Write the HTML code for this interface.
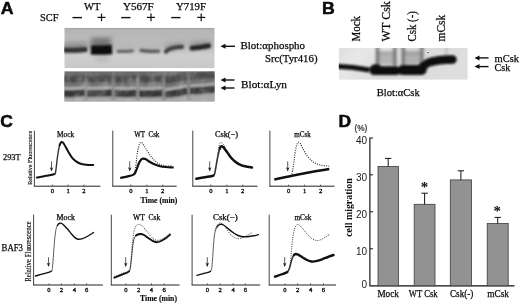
<!DOCTYPE html>
<html lang="en"><head><meta charset="utf-8"><title>Figure</title>
<style>
html,body{margin:0;padding:0;background:#fff;}
body{width:520px;height:303px;overflow:hidden;}
svg{display:block;}
text{white-space:pre;}
</style></head><body>
<svg width="520" height="303" viewBox="0 0 520 303">
<rect width="520" height="303" fill="#fff"/>
<defs>
<filter id="b1" x="-20%" y="-100%" width="140%" height="300%"><feGaussianBlur stdDeviation="1.1 0.9"/></filter>
<filter id="b2" x="-20%" y="-100%" width="140%" height="300%"><feGaussianBlur stdDeviation="1.6 1.5"/></filter>
<filter id="b3" x="-30%" y="-100%" width="160%" height="300%"><feGaussianBlur stdDeviation="2.5 2.2"/></filter>
<filter id="b05" x="-20%" y="-50%" width="140%" height="200%"><feGaussianBlur stdDeviation="0.6"/></filter>
<filter id="noise" x="0" y="0" width="100%" height="100%"><feTurbulence type="fractalNoise" baseFrequency="0.14 0.1" numOctaves="2" seed="7" result="t"/><feColorMatrix type="matrix" values="0 0 0 0 0.35  0 0 0 0 0.35  0 0 0 0 0.35  1.2 0 0 0 -0.45"/></filter>
<filter id="noise2" x="0" y="0" width="100%" height="100%"><feTurbulence type="fractalNoise" baseFrequency="0.12 0.09" numOctaves="2" seed="11" result="t"/><feColorMatrix type="matrix" values="0 0 0 0 0.95  0 0 0 0 0.95  0 0 0 0 0.95  1.2 0 0 0 -0.5"/></filter>
<filter id="soft" x="-5%" y="-5%" width="110%" height="110%"><feGaussianBlur stdDeviation="0.35"/></filter>
<linearGradient id="gA1" x1="0" y1="0" x2="0" y2="1">
<stop offset="0" stop-color="#a4a4a4"/><stop offset="0.07" stop-color="#b6b6b6"/><stop offset="0.45" stop-color="#bcbcbc"/><stop offset="0.68" stop-color="#cecece"/><stop offset="1" stop-color="#c8c8c8"/>
</linearGradient>
<linearGradient id="gA2" x1="0" y1="0" x2="0" y2="1">
<stop offset="0" stop-color="#686868"/><stop offset="0.5" stop-color="#727272"/><stop offset="1" stop-color="#8a8a8a"/>
</linearGradient>
<linearGradient id="gB" x1="0" y1="0" x2="1" y2="0.25">
<stop offset="0" stop-color="#dedede"/><stop offset="0.2" stop-color="#e8e8e8"/><stop offset="0.55" stop-color="#d8d8d8"/><stop offset="1" stop-color="#dedede"/>
</linearGradient>
<clipPath id="cA1"><rect x="64.3" y="27.8" width="150.4" height="40.4"/></clipPath>
<clipPath id="cA2"><rect x="64.3" y="71.2" width="150.4" height="30.4"/></clipPath>
<clipPath id="cB"><rect x="338.8" y="47.9" width="128.8" height="31.9"/></clipPath>
</defs>
<text x="0.8" y="13.7" font-size="16.8" font-family='"Liberation Sans", sans-serif' fill="#0a0a0a" font-weight="bold" textLength="12.8" lengthAdjust="spacingAndGlyphs" stroke="#0a0a0a" stroke-width="0.5" >A</text>
<text x="84" y="9.6" font-size="10.5" font-family='"Liberation Serif", serif' fill="#0a0a0a" textLength="16.5" lengthAdjust="spacingAndGlyphs" stroke="#0a0a0a" stroke-width="0.25" >WT</text>
<text x="123" y="9.6" font-size="10.5" font-family='"Liberation Serif", serif' fill="#0a0a0a" textLength="30.8" lengthAdjust="spacingAndGlyphs" stroke="#0a0a0a" stroke-width="0.25" >Y567F</text>
<text x="176" y="9.6" font-size="10.5" font-family='"Liberation Serif", serif' fill="#0a0a0a" textLength="30" lengthAdjust="spacingAndGlyphs" stroke="#0a0a0a" stroke-width="0.25" >Y719F</text>
<text x="40" y="21.2" font-size="10.5" font-family='"Liberation Serif", serif' fill="#0a0a0a" textLength="18.5" lengthAdjust="spacingAndGlyphs" stroke="#0a0a0a" stroke-width="0.25" >SCF</text>
<line x1="72.5" y1="17.6" x2="82" y2="17.6" stroke="#111" stroke-width="1.4" />
<line x1="121.2" y1="17.6" x2="130.5" y2="17.6" stroke="#111" stroke-width="1.4" />
<line x1="171.2" y1="17.6" x2="180.5" y2="17.6" stroke="#111" stroke-width="1.4" />
<line x1="97.5" y1="17.4" x2="105.5" y2="17.4" stroke="#111" stroke-width="1.2" />
<line x1="101.5" y1="13.6" x2="101.5" y2="21.2" stroke="#111" stroke-width="1.2" />
<line x1="147.0" y1="17.4" x2="155.0" y2="17.4" stroke="#111" stroke-width="1.2" />
<line x1="151" y1="13.6" x2="151" y2="21.2" stroke="#111" stroke-width="1.2" />
<line x1="197.2" y1="17.4" x2="205.2" y2="17.4" stroke="#111" stroke-width="1.2" />
<line x1="201.2" y1="13.6" x2="201.2" y2="21.2" stroke="#111" stroke-width="1.2" />
<g clip-path="url(#cA1)">
<rect x="64.3" y="27.8" width="150.4" height="40.4" fill="url(#gA1)" />
<g filter="url(#b3)" opacity="0.6">
<path d="M63,46.5 L87,46" stroke="#777" stroke-width="8" fill="none" />
<path d="M91,44 L111,43.5" stroke="#4a4a4a" stroke-width="12" fill="none" />
<path d="M116,49.5 L134,49" stroke="#aaa" stroke-width="5" fill="none" />
<path d="M140,49 L160,49.5" stroke="#aaa" stroke-width="5" fill="none" />
<path d="M165,48 L183,44.5" stroke="#8a8a8a" stroke-width="7" fill="none" />
<path d="M190,45.5 L210,43.5" stroke="#808080" stroke-width="7" fill="none" />
<path d="M96,58.8 L108,58.8" stroke="#8c8c8c" stroke-width="2.5" fill="none" />
</g>
<g filter="url(#b1)" stroke-linecap="round">
<path d="M64,50.1 C70,50.6 80,50 85,49.5" stroke="#303030" stroke-width="5.0" fill="none" />
<path d="M91,49.9 C97,50.3 106,50 112,49.5" stroke="#0c0c0c" stroke-width="9.4" fill="none" stroke-linecap="butt"/>
<path d="M118,51.3 C122,51.6 128,51.2 132.5,50.8" stroke="#5c5c5c" stroke-width="2.8" fill="none" />
<path d="M141,50.4 C146,51.2 153,51.4 158.5,51.2" stroke="#585858" stroke-width="3.2" fill="none" />
<path d="M166,51.6 C167.5,48.6 174,47.4 182,46.8" stroke="#3c3c3c" stroke-width="4.0" fill="none" />
<path d="M192,48.2 C196,47.8 204,46.6 208.5,45.8" stroke="#222" stroke-width="4.8" fill="none" />
</g>
</g>
<g clip-path="url(#cA2)">
<rect x="64.3" y="71.2" width="150.4" height="30.4" fill="url(#gA2)" />
<g filter="url(#b1)">
<polygon points="64,97.9 85.2,97.1 85.2,103 64,103" fill="#aaaaaa"/>
<polygon points="87,97.6 112.2,97.1 112.2,103 87,103" fill="#aaaaaa"/>
<polygon points="114.2,97.6 136.6,97.6 136.6,103 114.2,103" fill="#aaaaaa"/>
<polygon points="139,97.9 162.5,97.5 162.5,103 139,103" fill="#aaaaaa"/>
<polygon points="165,99.1 187.2,95.3 187.2,103 165,103" fill="#aaaaaa"/>
<polygon points="190,95.3 215,93.5 215,103 190,103" fill="#aaaaaa"/>
<path d="M64,79.0 Q74.6,79.5 85.2,78.2" stroke="#484848" stroke-width="7.0" fill="none" />
<path d="M64,85.0 Q74.6,85.5 85.2,84.2" stroke="#707070" stroke-width="4.0" fill="none" />
<path d="M64,93.2 Q74.6,93.7 85.2,92.4" stroke="#343434" stroke-width="7.6" fill="none" />
<path d="M64,88.4 Q74.6,88.9 85.2,87.6" stroke="#c0c0c0" stroke-width="2.2" fill="none" />
<path d="M87,78.7 Q99.6,79.3 112.2,78.2" stroke="#484848" stroke-width="7.0" fill="none" />
<path d="M87,84.7 Q99.6,85.3 112.2,84.2" stroke="#707070" stroke-width="4.0" fill="none" />
<path d="M87,92.9 Q99.6,93.5 112.2,92.4" stroke="#343434" stroke-width="7.6" fill="none" />
<path d="M87,88.1 Q99.6,88.8 112.2,87.6" stroke="#c0c0c0" stroke-width="2.2" fill="none" />
<path d="M114.2,78.7 Q125.4,79.6 136.6,78.7" stroke="#484848" stroke-width="7.0" fill="none" />
<path d="M114.2,84.7 Q125.4,85.6 136.6,84.7" stroke="#707070" stroke-width="4.0" fill="none" />
<path d="M114.2,92.9 Q125.4,93.8 136.6,92.9" stroke="#343434" stroke-width="7.6" fill="none" />
<path d="M114.2,88.1 Q125.4,89.0 136.6,88.1" stroke="#c0c0c0" stroke-width="2.2" fill="none" />
<path d="M139,79.0 Q150.75,79.7 162.5,78.6" stroke="#484848" stroke-width="7.0" fill="none" />
<path d="M139,85.0 Q150.75,85.7 162.5,84.6" stroke="#707070" stroke-width="4.0" fill="none" />
<path d="M139,93.2 Q150.75,93.9 162.5,92.8" stroke="#343434" stroke-width="7.6" fill="none" />
<path d="M139,88.4 Q150.75,89.1 162.5,88.0" stroke="#c0c0c0" stroke-width="2.2" fill="none" />
<path d="M165,80.2 Q176.1,79.2 187.2,76.4" stroke="#484848" stroke-width="7.0" fill="none" />
<path d="M165,86.2 Q176.1,85.2 187.2,82.4" stroke="#707070" stroke-width="4.0" fill="none" />
<path d="M165,94.4 Q176.1,93.4 187.2,90.6" stroke="#343434" stroke-width="7.6" fill="none" />
<path d="M165,89.6 Q176.1,88.6 187.2,85.8" stroke="#c0c0c0" stroke-width="2.2" fill="none" />
<path d="M190,76.4 Q202.5,76.4 215,74.6" stroke="#484848" stroke-width="7.0" fill="none" />
<path d="M190,82.4 Q202.5,82.4 215,80.6" stroke="#707070" stroke-width="4.0" fill="none" />
<path d="M190,90.6 Q202.5,90.6 215,88.8" stroke="#343434" stroke-width="7.6" fill="none" />
<path d="M190,85.8 Q202.5,85.8 215,84.0" stroke="#c0c0c0" stroke-width="2.2" fill="none" />
</g>
<g filter="url(#b1)">
<path d="M86.1,79 L86.1,102" stroke="#a0a0a0" stroke-width="1.8" fill="none" opacity="0.7"/>
<path d="M86.1,71 L86.1,80" stroke="#8a8a8a" stroke-width="1.4" fill="none" opacity="0.45"/>
<path d="M113.2,79 L113.2,102" stroke="#a0a0a0" stroke-width="1.8" fill="none" opacity="0.7"/>
<path d="M113.2,71 L113.2,80" stroke="#8a8a8a" stroke-width="1.4" fill="none" opacity="0.45"/>
<path d="M137.8,79 L137.8,102" stroke="#a0a0a0" stroke-width="1.8" fill="none" opacity="0.7"/>
<path d="M137.8,71 L137.8,80" stroke="#8a8a8a" stroke-width="1.4" fill="none" opacity="0.45"/>
<path d="M163.8,79 L163.8,102" stroke="#a0a0a0" stroke-width="1.8" fill="none" opacity="0.7"/>
<path d="M163.8,71 L163.8,80" stroke="#8a8a8a" stroke-width="1.4" fill="none" opacity="0.45"/>
<path d="M188.5,79 L188.5,102" stroke="#a0a0a0" stroke-width="1.8" fill="none" opacity="0.7"/>
<path d="M188.5,71 L188.5,80" stroke="#8a8a8a" stroke-width="1.4" fill="none" opacity="0.45"/>
</g>
<rect x="64" y="71" width="151" height="31" filter="url(#noise)" opacity="0.5"/>
<rect x="64" y="71" width="151" height="31" filter="url(#noise2)" opacity="0.3"/>
</g>
<line x1="222.5" y1="46.3" x2="235" y2="46.3" stroke="#111" stroke-width="1.4" />
<polygon points="220.5,46.3 225.5,43.8 225.5,48.8" fill="#111"/>
<line x1="222.5" y1="80" x2="234.5" y2="80" stroke="#111" stroke-width="1.4" />
<polygon points="220.5,80 225.5,77.5 225.5,82.5" fill="#111"/>
<line x1="222.5" y1="88" x2="234.5" y2="88" stroke="#111" stroke-width="1.4" />
<polygon points="220.5,88 225.5,85.5 225.5,90.5" fill="#111"/>
<text x="240.5" y="49.2" font-size="11" font-family='"Liberation Serif", serif' fill="#0a0a0a" textLength="64.5" lengthAdjust="spacingAndGlyphs" stroke="#0a0a0a" stroke-width="0.25" >Blot:αphospho</text>
<text x="264.9" y="61.8" font-size="11" font-family='"Liberation Serif", serif' fill="#0a0a0a" textLength="52.6" lengthAdjust="spacingAndGlyphs" stroke="#0a0a0a" stroke-width="0.25" >Src(Tyr416)</text>
<text x="241" y="87.6" font-size="11" font-family='"Liberation Serif", serif' fill="#0a0a0a" textLength="46" lengthAdjust="spacingAndGlyphs" stroke="#0a0a0a" stroke-width="0.25" >Blot:αLyn</text>
<text x="322.0" y="13.5" font-size="16.8" font-family='"Liberation Sans", sans-serif' fill="#0a0a0a" font-weight="bold" textLength="12.8" lengthAdjust="spacingAndGlyphs" stroke="#0a0a0a" stroke-width="0.5" >B</text>
<text x="360" y="41.4" font-size="12" font-family='"Liberation Serif", serif' fill="#0a0a0a" textLength="25.4" lengthAdjust="spacingAndGlyphs" transform="rotate(-90 360 41.4)" stroke="#0a0a0a" stroke-width="0.25" >Mock</text>
<text x="389.8" y="41.4" font-size="12" font-family='"Liberation Serif", serif' fill="#0a0a0a" textLength="40.3" lengthAdjust="spacingAndGlyphs" transform="rotate(-90 389.8 41.4)" stroke="#0a0a0a" stroke-width="0.25" xml:space="preserve">WT Csk</text>
<text x="415.8" y="41.4" font-size="12" font-family='"Liberation Serif", serif' fill="#0a0a0a" textLength="30.3" lengthAdjust="spacingAndGlyphs" transform="rotate(-90 415.8 41.4)" stroke="#0a0a0a" stroke-width="0.25" >Csk (-)</text>
<text x="444.6" y="41.4" font-size="12" font-family='"Liberation Serif", serif' fill="#0a0a0a" textLength="26.5" lengthAdjust="spacingAndGlyphs" transform="rotate(-90 444.6 41.4)" stroke="#0a0a0a" stroke-width="0.25" >mCsk</text>
<g clip-path="url(#cB)">
<rect x="338.8" y="47.9" width="130" height="31.9" fill="url(#gB)" />
<g filter="url(#b2)">
<rect x="377" y="51.5" width="18" height="13" fill="#b4b4b4" />
<rect x="403.5" y="51.5" width="18" height="13" fill="#b0b0b0" />
<path d="M377,53 L395,53" stroke="#a0a0a0" stroke-width="2.6" fill="none" />
<path d="M403.5,53 L421.5,53" stroke="#989898" stroke-width="2.8" fill="none" />
</g>
<g filter="url(#b2)">
<path d="M377.6,46 L377.6,66" stroke="#707070" stroke-width="3.2" fill="none" />
<path d="M394.8,46 L394.8,66" stroke="#707070" stroke-width="3.2" fill="none" />
<path d="M403.3,46 L403.3,66" stroke="#707070" stroke-width="3.2" fill="none" />
<path d="M421.8,46 L421.8,66" stroke="#707070" stroke-width="3.2" fill="none" />
<path d="M446.4,47 L446.4,56" stroke="#b0b0b0" stroke-width="1.6" fill="none" />
</g>
<g filter="url(#b1)" stroke-linecap="round">
<path d="M336,66.2 C350,66.8 360,68.2 369.5,70" stroke="#0a0a0a" stroke-width="5.0" fill="none" stroke-linecap="butt"/>
<path d="M375,69.6 L377,69.6" stroke="#080808" stroke-width="10.5" fill="none" />
<path d="M374,70.6 L396,70.6" stroke="#080808" stroke-width="8.6" fill="none" />
<path d="M394,71 L404,71" stroke="#080808" stroke-width="6.5" fill="none" />
<path d="M403,70 L421.5,70" stroke="#080808" stroke-width="10.2" fill="none" />
<path d="M421,68.5 C424,66 426,63.5 429,62.4 C434,60.6 440,59.8 452.5,59.5" stroke="#080808" stroke-width="8.4" fill="none" />
</g>
<circle cx="428" cy="52.6" r="1.5" fill="#f2f2f2"/><circle cx="428" cy="52.6" r="0.8" fill="#444"/>
</g>
<line x1="476.5" y1="57.9" x2="488.5" y2="57.9" stroke="#111" stroke-width="1.4" />
<polygon points="474.5,57.9 479.5,55.4 479.5,60.4" fill="#111"/>
<line x1="476.5" y1="66.6" x2="488.5" y2="66.6" stroke="#111" stroke-width="1.4" />
<polygon points="474.5,66.6 479.5,64.1 479.5,69.1" fill="#111"/>
<text x="494.5" y="61.8" font-size="11" font-family='"Liberation Serif", serif' fill="#0a0a0a" textLength="24.5" lengthAdjust="spacingAndGlyphs" stroke="#0a0a0a" stroke-width="0.25" >mCsk</text>
<text x="494.5" y="70.6" font-size="11" font-family='"Liberation Serif", serif' fill="#0a0a0a" textLength="15.8" lengthAdjust="spacingAndGlyphs" stroke="#0a0a0a" stroke-width="0.25" >Csk</text>
<text x="376.8" y="95.8" font-size="11" font-family='"Liberation Serif", serif' fill="#0a0a0a" textLength="42.9" lengthAdjust="spacingAndGlyphs" stroke="#0a0a0a" stroke-width="0.25" >Blot:αCsk</text>
<text x="0.2" y="127.4" font-size="16.8" font-family='"Liberation Sans", sans-serif' fill="#0a0a0a" font-weight="bold" textLength="12.6" lengthAdjust="spacingAndGlyphs" stroke="#0a0a0a" stroke-width="0.5" >C</text>
<text x="3" y="159.8" font-size="9" font-family='"Liberation Serif", serif' fill="#0a0a0a" textLength="17.6" lengthAdjust="spacingAndGlyphs" stroke="#0a0a0a" stroke-width="0.25" >293T</text>
<text x="1.6" y="251.2" font-size="9.5" font-family='"Liberation Serif", serif' fill="#0a0a0a" textLength="21.4" lengthAdjust="spacingAndGlyphs" stroke="#0a0a0a" stroke-width="0.25" >BAF3</text>
<text x="31.8" y="184.8" font-size="6.8" font-family='"Liberation Serif", serif' fill="#0a0a0a" textLength="54" lengthAdjust="spacingAndGlyphs" transform="rotate(-90 31.8 184.8)" stroke="#0a0a0a" stroke-width="0.15" >Relative Fluorescence</text>
<text x="30.9" y="281.7" font-size="7.3" font-family='"Liberation Serif", serif' fill="#0a0a0a" textLength="60.5" lengthAdjust="spacingAndGlyphs" transform="rotate(-90 30.9 281.7)" stroke="#0a0a0a" stroke-width="0.15" >Relative Fluorescence</text>
<line x1="34.4" y1="130.6" x2="34.4" y2="186.2" stroke="#444" stroke-width="1.0" />
<line x1="33.9" y1="186.2" x2="100.4" y2="186.2" stroke="#222" stroke-width="1.0" />
<text x="57" y="136.7" font-size="7.4" font-family='"Liberation Serif", serif' fill="#0a0a0a" textLength="17.2" lengthAdjust="spacingAndGlyphs" stroke="#0a0a0a" stroke-width="0.25" xml:space="preserve">Mock</text>
<text x="52.3" y="193.0" font-size="6.6" font-family='"Liberation Serif", serif' fill="#0a0a0a" text-anchor="middle" stroke="#0a0a0a" stroke-width="0.3" >0</text>
<line x1="52.3" y1="186.2" x2="52.3" y2="184.6" stroke="#333" stroke-width="0.8" />
<text x="68.1" y="193.0" font-size="6.6" font-family='"Liberation Serif", serif' fill="#0a0a0a" text-anchor="middle" stroke="#0a0a0a" stroke-width="0.3" >1</text>
<line x1="68.1" y1="186.2" x2="68.1" y2="184.6" stroke="#333" stroke-width="0.8" />
<text x="84.0" y="193.0" font-size="6.6" font-family='"Liberation Serif", serif' fill="#0a0a0a" text-anchor="middle" stroke="#0a0a0a" stroke-width="0.3" >2</text>
<line x1="84.0" y1="186.2" x2="84.0" y2="184.6" stroke="#333" stroke-width="0.8" />
<line x1="51.5" y1="161.3" x2="51.5" y2="170.4" stroke="#333" stroke-width="0.8" />
<polygon points="51.5,171.4 49.8,167.20000000000002 51.5,168.20000000000002 53.2,167.20000000000002" fill="#222"/>
<line x1="112.8" y1="130.6" x2="112.8" y2="186.2" stroke="#444" stroke-width="1.0" />
<line x1="112.3" y1="186.2" x2="176.7" y2="186.2" stroke="#222" stroke-width="1.0" />
<text x="134.2" y="136.7" font-size="7.4" font-family='"Liberation Serif", serif' fill="#0a0a0a" textLength="25.2" lengthAdjust="spacingAndGlyphs" stroke="#0a0a0a" stroke-width="0.25" xml:space="preserve">WT  Csk</text>
<text x="130.9" y="193.0" font-size="6.6" font-family='"Liberation Serif", serif' fill="#0a0a0a" text-anchor="middle" stroke="#0a0a0a" stroke-width="0.3" >0</text>
<line x1="130.9" y1="186.2" x2="130.9" y2="184.6" stroke="#333" stroke-width="0.8" />
<text x="146.9" y="193.0" font-size="6.6" font-family='"Liberation Serif", serif' fill="#0a0a0a" text-anchor="middle" stroke="#0a0a0a" stroke-width="0.3" >1</text>
<line x1="146.9" y1="186.2" x2="146.9" y2="184.6" stroke="#333" stroke-width="0.8" />
<text x="162.70000000000002" y="193.0" font-size="6.6" font-family='"Liberation Serif", serif' fill="#0a0a0a" text-anchor="middle" stroke="#0a0a0a" stroke-width="0.3" >2</text>
<line x1="162.70000000000002" y1="186.2" x2="162.70000000000002" y2="184.6" stroke="#333" stroke-width="0.8" />
<line x1="129.7" y1="161.3" x2="129.7" y2="170.4" stroke="#333" stroke-width="0.8" />
<polygon points="129.7,171.4 127.99999999999999,167.20000000000002 129.7,168.20000000000002 131.39999999999998,167.20000000000002" fill="#222"/>
<line x1="192.8" y1="130.6" x2="192.8" y2="186.2" stroke="#444" stroke-width="1.0" />
<line x1="192.3" y1="186.2" x2="257.5" y2="186.2" stroke="#222" stroke-width="1.0" />
<text x="215" y="136.7" font-size="7.4" font-family='"Liberation Serif", serif' fill="#0a0a0a" textLength="23" lengthAdjust="spacingAndGlyphs" stroke="#0a0a0a" stroke-width="0.25" xml:space="preserve">Csk(−)</text>
<text x="210.9" y="193.0" font-size="6.6" font-family='"Liberation Serif", serif' fill="#0a0a0a" text-anchor="middle" stroke="#0a0a0a" stroke-width="0.3" >0</text>
<line x1="210.9" y1="186.2" x2="210.9" y2="184.6" stroke="#333" stroke-width="0.8" />
<text x="226.9" y="193.0" font-size="6.6" font-family='"Liberation Serif", serif' fill="#0a0a0a" text-anchor="middle" stroke="#0a0a0a" stroke-width="0.3" >1</text>
<line x1="226.9" y1="186.2" x2="226.9" y2="184.6" stroke="#333" stroke-width="0.8" />
<text x="242.70000000000002" y="193.0" font-size="6.6" font-family='"Liberation Serif", serif' fill="#0a0a0a" text-anchor="middle" stroke="#0a0a0a" stroke-width="0.3" >2</text>
<line x1="242.70000000000002" y1="186.2" x2="242.70000000000002" y2="184.6" stroke="#333" stroke-width="0.8" />
<line x1="209.7" y1="161.3" x2="209.7" y2="170.4" stroke="#333" stroke-width="0.8" />
<polygon points="209.7,171.4 208.0,167.20000000000002 209.7,168.20000000000002 211.39999999999998,167.20000000000002" fill="#222"/>
<line x1="269.9" y1="130.6" x2="269.9" y2="186.2" stroke="#444" stroke-width="1.0" />
<line x1="269.4" y1="186.2" x2="334.5" y2="186.2" stroke="#222" stroke-width="1.0" />
<text x="294.2" y="136.7" font-size="7.4" font-family='"Liberation Serif", serif' fill="#0a0a0a" textLength="16.5" lengthAdjust="spacingAndGlyphs" stroke="#0a0a0a" stroke-width="0.25" xml:space="preserve">mCsk</text>
<text x="288.6" y="193.0" font-size="6.6" font-family='"Liberation Serif", serif' fill="#0a0a0a" text-anchor="middle" stroke="#0a0a0a" stroke-width="0.3" >0</text>
<line x1="288.6" y1="186.2" x2="288.6" y2="184.6" stroke="#333" stroke-width="0.8" />
<text x="304.6" y="193.0" font-size="6.6" font-family='"Liberation Serif", serif' fill="#0a0a0a" text-anchor="middle" stroke="#0a0a0a" stroke-width="0.3" >1</text>
<line x1="304.6" y1="186.2" x2="304.6" y2="184.6" stroke="#333" stroke-width="0.8" />
<text x="320.6" y="193.0" font-size="6.6" font-family='"Liberation Serif", serif' fill="#0a0a0a" text-anchor="middle" stroke="#0a0a0a" stroke-width="0.3" >2</text>
<line x1="320.6" y1="186.2" x2="320.6" y2="184.6" stroke="#333" stroke-width="0.8" />
<line x1="287.7" y1="161.3" x2="287.7" y2="170.4" stroke="#333" stroke-width="0.8" />
<polygon points="287.7,171.4 286.0,167.20000000000002 287.7,168.20000000000002 289.4,167.20000000000002" fill="#222"/>
<text x="140.6" y="203.3" font-size="8.6" font-family='"Liberation Serif", serif' fill="#0a0a0a" font-weight="bold" textLength="36.8" lengthAdjust="spacingAndGlyphs" stroke="#0a0a0a" stroke-width="0.15" >Time (min)</text>
<path d="M54.0,174.2 C55.8,173.5 55.0,175.0 55.6,172.0 C56.2,169.0 56.9,160.4 57.6,156.0 C58.3,151.6 58.9,147.6 59.6,145.3" stroke="#333" stroke-width="1.4" fill="none" stroke-linecap="round"/>
<path d="M36.8,177.6 C38.2,177.3 42.1,176.6 45.0,176.0 C47.9,175.4 52.2,174.9 54.0,174.2" stroke="#111" stroke-width="2.0" fill="none" stroke-linecap="round"/>
<path d="M59.6,145.3 C60.3,143.0 60.9,142.3 61.6,142.0 C62.3,141.7 62.6,141.8 63.7,143.5 C64.8,145.2 67.0,149.6 68.4,152.0 C69.8,154.4 71.0,156.3 72.2,157.8 C73.5,159.3 74.6,160.2 75.9,161.2 C77.2,162.1 78.3,162.9 80.0,163.5 C81.7,164.1 83.8,164.5 86.0,164.8 C88.2,165.1 92.0,165.1 93.2,165.1" stroke="#111" stroke-width="2.0" fill="none" stroke-linecap="round"/>
<path d="M120.2,178.0 C121.3,177.8 124.8,177.2 127.0,176.6 C129.2,176.0 132.0,175.5 133.5,174.6 C135.0,173.7 135.1,172.9 136.0,171.0 C136.9,169.1 138.1,164.9 139.0,163.0 C139.9,161.1 140.8,160.0 141.5,159.3 C142.2,158.6 142.8,158.6 143.5,158.6 C144.2,158.6 144.9,158.7 146.0,159.3 C147.1,159.9 148.5,161.1 150.0,162.0 C151.5,162.9 153.3,163.9 155.0,164.6 C156.7,165.3 158.2,165.8 160.0,166.2 C161.8,166.6 163.7,166.8 166.0,167.0 C168.3,167.2 172.4,167.4 173.7,167.5" stroke="#111" stroke-width="2.2" fill="none" />
<path d="M133.5,174.6 C133.8,173.5 134.8,171.8 135.5,168.0 C136.2,164.2 136.8,156.0 137.5,152.0 C138.2,148.0 138.9,145.6 139.5,144.0 C140.1,142.4 140.3,142.5 140.8,142.4 C141.3,142.3 141.6,142.4 142.5,143.5 C143.4,144.6 144.8,147.1 146.0,149.0 C147.2,150.9 148.7,153.2 150.0,155.0 C151.3,156.8 152.5,158.5 154.0,160.0 C155.5,161.5 157.2,163.0 159.0,164.0 C160.8,165.0 162.7,165.4 165.0,165.8 C167.3,166.2 171.5,166.1 172.8,166.2" stroke="#222" stroke-width="1.1" fill="none" stroke-dasharray="1 1.3"/>
<path d="M213.3,175.6 C215.0,174.7 214.3,174.9 215.0,172.0 C215.7,169.1 216.7,161.9 217.5,158.0 C218.3,154.1 219.1,150.5 219.8,148.5" stroke="#333" stroke-width="1.6" fill="none" stroke-linecap="round"/>
<path d="M196.3,178.8 C197.8,178.5 202.2,177.7 205.0,177.2 C207.8,176.7 211.6,176.5 213.3,175.6" stroke="#111" stroke-width="2.5" fill="none" stroke-linecap="round"/>
<path d="M219.8,148.5 C220.5,146.5 221.0,146.4 221.6,146.2 C222.2,146.0 222.6,146.3 223.5,147.3 C224.4,148.3 225.8,150.4 227.0,152.0 C228.2,153.6 229.2,155.4 230.5,157.0 C231.8,158.6 233.5,160.3 235.0,161.5 C236.5,162.7 237.7,163.5 239.4,164.3 C241.1,165.1 242.9,165.8 245.0,166.3 C247.1,166.8 250.8,167.3 252.0,167.5" stroke="#111" stroke-width="2.5" fill="none" stroke-linecap="round"/>
<path d="M217.5,155.0 C217.8,153.3 218.7,147.1 219.3,145.0 C219.9,142.9 220.4,142.6 221.0,142.4 C221.6,142.2 222.1,142.7 222.8,143.6 C223.5,144.5 225.0,147.3 225.4,148.0" stroke="#333" stroke-width="1.0" fill="none" stroke-dasharray="1 1.3"/>
<path d="M274.3,179.4 C276.9,178.9 284.1,177.4 290.0,176.2 C295.9,175.0 303.4,173.4 310.0,172.2 C316.6,171.0 326.1,169.5 329.3,169.0" stroke="#111" stroke-width="2.6" fill="none" />
<path d="M292.0,173.8 C292.2,172.3 292.9,169.0 293.5,165.0 C294.1,161.0 294.9,153.6 295.5,150.0 C296.1,146.4 296.8,144.8 297.3,143.5 C297.8,142.2 298.2,142.3 298.7,142.3 C299.2,142.3 299.6,142.4 300.3,143.5 C301.0,144.6 301.9,147.0 303.0,149.0 C304.1,151.0 305.7,153.8 307.0,155.6 C308.3,157.4 309.8,158.8 311.0,160.0 C312.2,161.2 312.9,162.0 314.4,162.8 C315.9,163.6 317.5,164.4 320.0,165.0 C322.5,165.6 327.8,166.0 329.3,166.2" stroke="#222" stroke-width="1.1" fill="none" stroke-dasharray="1 1.3"/>
<line x1="33.6" y1="214.7" x2="33.6" y2="285" stroke="#444" stroke-width="1.0" />
<line x1="33.1" y1="285" x2="102.9" y2="285" stroke="#222" stroke-width="1.0" />
<text x="56.5" y="220.4" font-size="7.4" font-family='"Liberation Serif", serif' fill="#0a0a0a" textLength="18.5" lengthAdjust="spacingAndGlyphs" stroke="#0a0a0a" stroke-width="0.25" xml:space="preserve">Mock</text>
<text x="49" y="292.0" font-size="6.6" font-family='"Liberation Serif", serif' fill="#0a0a0a" text-anchor="middle" stroke="#0a0a0a" stroke-width="0.3" >0</text>
<line x1="49" y1="285" x2="49" y2="283.4" stroke="#333" stroke-width="0.8" />
<text x="61.4" y="292.0" font-size="6.6" font-family='"Liberation Serif", serif' fill="#0a0a0a" text-anchor="middle" stroke="#0a0a0a" stroke-width="0.3" >2</text>
<line x1="61.4" y1="285" x2="61.4" y2="283.4" stroke="#333" stroke-width="0.8" />
<text x="74.3" y="292.0" font-size="6.6" font-family='"Liberation Serif", serif' fill="#0a0a0a" text-anchor="middle" stroke="#0a0a0a" stroke-width="0.3" >4</text>
<line x1="74.3" y1="285" x2="74.3" y2="283.4" stroke="#333" stroke-width="0.8" />
<text x="86.6" y="292.0" font-size="6.6" font-family='"Liberation Serif", serif' fill="#0a0a0a" text-anchor="middle" stroke="#0a0a0a" stroke-width="0.3" >6</text>
<line x1="86.6" y1="285" x2="86.6" y2="283.4" stroke="#333" stroke-width="0.8" />
<line x1="48.5" y1="257.2" x2="48.5" y2="266.0" stroke="#333" stroke-width="0.8" />
<polygon points="48.5,267.0 46.8,262.8 48.5,263.8 50.2,262.8" fill="#222"/>
<line x1="111.3" y1="214.7" x2="111.3" y2="285" stroke="#444" stroke-width="1.0" />
<line x1="110.8" y1="285" x2="179.5" y2="285" stroke="#222" stroke-width="1.0" />
<text x="133" y="220.4" font-size="7.4" font-family='"Liberation Serif", serif' fill="#0a0a0a" textLength="27.3" lengthAdjust="spacingAndGlyphs" stroke="#0a0a0a" stroke-width="0.25" xml:space="preserve">WT  Csk</text>
<text x="126" y="292.0" font-size="6.6" font-family='"Liberation Serif", serif' fill="#0a0a0a" text-anchor="middle" stroke="#0a0a0a" stroke-width="0.3" >0</text>
<line x1="126" y1="285" x2="126" y2="283.4" stroke="#333" stroke-width="0.8" />
<text x="138.7" y="292.0" font-size="6.6" font-family='"Liberation Serif", serif' fill="#0a0a0a" text-anchor="middle" stroke="#0a0a0a" stroke-width="0.3" >2</text>
<line x1="138.7" y1="285" x2="138.7" y2="283.4" stroke="#333" stroke-width="0.8" />
<text x="151.5" y="292.0" font-size="6.6" font-family='"Liberation Serif", serif' fill="#0a0a0a" text-anchor="middle" stroke="#0a0a0a" stroke-width="0.3" >4</text>
<line x1="151.5" y1="285" x2="151.5" y2="283.4" stroke="#333" stroke-width="0.8" />
<text x="164.2" y="292.0" font-size="6.6" font-family='"Liberation Serif", serif' fill="#0a0a0a" text-anchor="middle" stroke="#0a0a0a" stroke-width="0.3" >6</text>
<line x1="164.2" y1="285" x2="164.2" y2="283.4" stroke="#333" stroke-width="0.8" />
<line x1="125.7" y1="257.2" x2="125.7" y2="266.0" stroke="#333" stroke-width="0.8" />
<polygon points="125.7,267.0 124.0,262.8 125.7,263.8 127.4,262.8" fill="#222"/>
<line x1="192.1" y1="214.7" x2="192.1" y2="285" stroke="#444" stroke-width="1.0" />
<line x1="191.6" y1="285" x2="260.2" y2="285" stroke="#222" stroke-width="1.0" />
<text x="213" y="220.4" font-size="7.4" font-family='"Liberation Serif", serif' fill="#0a0a0a" textLength="24.7" lengthAdjust="spacingAndGlyphs" stroke="#0a0a0a" stroke-width="0.25" xml:space="preserve">Csk(−)</text>
<text x="207.3" y="292.0" font-size="6.6" font-family='"Liberation Serif", serif' fill="#0a0a0a" text-anchor="middle" stroke="#0a0a0a" stroke-width="0.3" >0</text>
<line x1="207.3" y1="285" x2="207.3" y2="283.4" stroke="#333" stroke-width="0.8" />
<text x="220.2" y="292.0" font-size="6.6" font-family='"Liberation Serif", serif' fill="#0a0a0a" text-anchor="middle" stroke="#0a0a0a" stroke-width="0.3" >2</text>
<line x1="220.2" y1="285" x2="220.2" y2="283.4" stroke="#333" stroke-width="0.8" />
<text x="233.2" y="292.0" font-size="6.6" font-family='"Liberation Serif", serif' fill="#0a0a0a" text-anchor="middle" stroke="#0a0a0a" stroke-width="0.3" >4</text>
<line x1="233.2" y1="285" x2="233.2" y2="283.4" stroke="#333" stroke-width="0.8" />
<text x="245.4" y="292.0" font-size="6.6" font-family='"Liberation Serif", serif' fill="#0a0a0a" text-anchor="middle" stroke="#0a0a0a" stroke-width="0.3" >6</text>
<line x1="245.4" y1="285" x2="245.4" y2="283.4" stroke="#333" stroke-width="0.8" />
<line x1="207.3" y1="257.2" x2="207.3" y2="266.0" stroke="#333" stroke-width="0.8" />
<polygon points="207.3,267.0 205.60000000000002,262.8 207.3,263.8 209.0,262.8" fill="#222"/>
<line x1="269.2" y1="214.7" x2="269.2" y2="285" stroke="#444" stroke-width="1.0" />
<line x1="268.7" y1="285" x2="336" y2="285" stroke="#222" stroke-width="1.0" />
<text x="294.4" y="220.4" font-size="7.4" font-family='"Liberation Serif", serif' fill="#0a0a0a" textLength="17" lengthAdjust="spacingAndGlyphs" stroke="#0a0a0a" stroke-width="0.25" xml:space="preserve">mCsk</text>
<text x="285" y="292.0" font-size="6.6" font-family='"Liberation Serif", serif' fill="#0a0a0a" text-anchor="middle" stroke="#0a0a0a" stroke-width="0.3" >0</text>
<line x1="285" y1="285" x2="285" y2="283.4" stroke="#333" stroke-width="0.8" />
<text x="297.6" y="292.0" font-size="6.6" font-family='"Liberation Serif", serif' fill="#0a0a0a" text-anchor="middle" stroke="#0a0a0a" stroke-width="0.3" >2</text>
<line x1="297.6" y1="285" x2="297.6" y2="283.4" stroke="#333" stroke-width="0.8" />
<text x="310.6" y="292.0" font-size="6.6" font-family='"Liberation Serif", serif' fill="#0a0a0a" text-anchor="middle" stroke="#0a0a0a" stroke-width="0.3" >4</text>
<line x1="310.6" y1="285" x2="310.6" y2="283.4" stroke="#333" stroke-width="0.8" />
<text x="323.5" y="292.0" font-size="6.6" font-family='"Liberation Serif", serif' fill="#0a0a0a" text-anchor="middle" stroke="#0a0a0a" stroke-width="0.3" >6</text>
<line x1="323.5" y1="285" x2="323.5" y2="283.4" stroke="#333" stroke-width="0.8" />
<line x1="284.7" y1="257.2" x2="284.7" y2="266.0" stroke="#333" stroke-width="0.8" />
<polygon points="284.7,267.0 283.0,262.8 284.7,263.8 286.4,262.8" fill="#222"/>
<text x="140" y="301.2" font-size="8.6" font-family='"Liberation Serif", serif' fill="#0a0a0a" font-weight="bold" textLength="37" lengthAdjust="spacingAndGlyphs" stroke="#0a0a0a" stroke-width="0.15" >Time (min)</text>
<path d="M51.3,271.3 C52.9,270.0 52.1,270.4 52.6,266.0 C53.1,261.6 53.7,250.8 54.2,245.0 C54.7,239.2 55.1,234.8 55.6,231.5 C56.1,228.2 56.7,226.9 57.4,225.5" stroke="#333" stroke-width="0.8" fill="none" stroke-linecap="round"/>
<path d="M35.5,276.0 C36.8,275.6 40.4,274.6 43.0,273.8 C45.6,273.0 49.7,272.6 51.3,271.3" stroke="#111" stroke-width="1.4" fill="none" stroke-linecap="round"/>
<path d="M57.4,225.5 C58.1,224.1 58.9,223.4 59.8,223.2 C60.7,223.0 61.6,223.3 62.8,224.2 C64.0,225.1 65.5,227.0 67.0,228.6 C68.5,230.2 70.2,232.5 71.5,234.0 C72.8,235.5 73.9,236.7 75.0,237.6 C76.1,238.5 76.8,239.0 78.0,239.2 C79.2,239.4 80.8,239.1 82.5,238.6 C84.2,238.1 86.2,237.0 88.0,236.0 C89.8,235.0 92.6,233.1 93.5,232.5" stroke="#111" stroke-width="1.4" fill="none" stroke-linecap="round"/>
<path d="M129.0,271.3 C130.4,269.9 130.0,269.6 130.6,266.0 C131.2,262.4 131.8,254.3 132.3,250.0 C132.8,245.7 133.2,242.4 133.8,240.0 C134.4,237.6 134.9,236.5 136.0,235.5" stroke="#333" stroke-width="0.9" fill="none" stroke-linecap="round"/>
<path d="M114.4,277.7 C115.7,277.2 119.6,275.7 122.0,274.6 C124.4,273.5 127.6,272.7 129.0,271.3" stroke="#111" stroke-width="1.9" fill="none" stroke-linecap="round"/>
<path d="M136.0,235.5 C137.1,234.5 138.9,234.1 140.2,234.0 C141.5,233.9 142.5,234.2 144.0,235.0 C145.5,235.8 147.5,237.5 149.0,238.5 C150.5,239.5 151.8,240.6 153.0,241.2 C154.2,241.8 155.2,242.1 156.4,242.2 C157.6,242.2 158.6,242.1 160.0,241.5 C161.4,240.9 163.3,239.9 165.0,238.8 C166.7,237.7 169.2,235.4 170.0,234.7" stroke="#111" stroke-width="1.9" fill="none" stroke-linecap="round"/>
<path d="M114.4,276.5 C115.7,276.0 119.6,274.5 122.0,273.5 C124.4,272.5 127.6,272.2 129.0,270.6 C130.4,269.0 130.0,268.4 130.6,264.0 C131.2,259.6 131.7,249.5 132.3,244.0 C132.9,238.5 133.4,234.0 134.0,231.0 C134.6,228.0 135.2,227.1 136.0,226.0 C136.8,224.9 137.7,224.5 138.6,224.4 C139.5,224.3 140.4,224.5 141.5,225.3 C142.6,226.1 143.8,227.6 145.0,229.0 C146.2,230.4 147.7,232.4 149.0,234.0 C150.3,235.6 151.7,237.4 153.0,238.5 C154.3,239.6 155.7,240.1 157.0,240.3 C158.3,240.5 159.5,240.2 161.0,239.6 C162.5,239.0 164.5,237.6 166.0,236.5 C167.5,235.4 169.3,233.6 170.0,233.0" stroke="#333" stroke-width="1.0" fill="none" stroke-dasharray="1 1.3"/>
<path d="M210.5,271.3 C211.8,270.1 211.5,269.9 212.0,266.0 C212.5,262.1 212.9,253.3 213.3,248.0 C213.7,242.7 214.0,237.5 214.6,234.0 C215.2,230.5 216.1,228.6 217.0,227.0" stroke="#333" stroke-width="0.8" fill="none" stroke-linecap="round"/>
<path d="M197.0,275.4 C198.2,275.1 201.8,274.1 204.0,273.4 C206.2,272.7 209.2,272.5 210.5,271.3" stroke="#111" stroke-width="1.4" fill="none" stroke-linecap="round"/>
<path d="M217.0,227.0 C217.9,225.4 219.1,224.7 220.2,224.4 C221.3,224.1 222.2,224.3 223.5,225.0 C224.8,225.7 226.4,227.2 228.0,228.5 C229.6,229.8 231.3,231.3 233.0,232.5 C234.7,233.7 236.3,234.8 238.0,235.5 C239.7,236.2 241.2,236.5 243.0,236.7 C244.8,236.9 247.2,236.7 249.0,236.5 C250.8,236.3 252.4,236.1 254.0,235.8 C255.6,235.5 257.7,234.9 258.4,234.7" stroke="#111" stroke-width="1.4" fill="none" stroke-linecap="round"/>
<path d="M215.0,231.0 C215.3,230.1 216.2,226.8 217.0,225.5 C217.8,224.2 218.6,223.2 219.5,223.0 C220.4,222.8 221.2,222.9 222.5,224.0 C223.8,225.1 225.6,227.7 227.0,229.5 C228.4,231.3 229.4,233.5 231.0,235.0 C232.6,236.5 234.6,237.9 236.4,238.4 C238.2,238.9 240.2,238.5 242.0,238.0 C243.8,237.5 245.2,236.4 247.0,235.5 C248.8,234.6 251.6,233.0 252.5,232.5" stroke="#333" stroke-width="1.0" fill="none" stroke-dasharray="1 1.3"/>
<path d="M287.3,272.0 C288.7,270.9 288.7,270.2 289.5,268.0 C290.3,265.8 291.2,261.2 292.0,259.0 C292.8,256.8 293.4,255.8 294.0,255.0" stroke="#333" stroke-width="1.5" fill="none" stroke-linecap="round"/>
<path d="M275.0,276.7 C276.0,276.3 278.9,275.3 281.0,274.5 C283.1,273.7 285.9,273.1 287.3,272.0" stroke="#111" stroke-width="2.4" fill="none" stroke-linecap="round"/>
<path d="M294.0,255.0 C294.6,254.2 295.1,254.1 295.8,254.0 C296.5,253.9 297.0,254.1 298.0,254.6 C299.0,255.1 300.5,256.1 302.0,257.0 C303.5,257.9 305.4,259.2 307.0,260.0 C308.6,260.8 310.0,261.3 311.5,261.5 C313.0,261.7 314.2,261.6 316.0,261.2 C317.8,260.8 320.0,260.0 322.0,259.3 C324.0,258.6 326.1,257.7 328.0,257.0 C329.9,256.3 332.6,255.3 333.5,255.0" stroke="#111" stroke-width="2.4" fill="none" stroke-linecap="round"/>
<path d="M289.0,270.0 C289.2,268.7 289.9,267.0 290.5,262.0 C291.1,257.0 291.8,245.5 292.5,240.0 C293.2,234.5 293.8,231.6 294.5,229.0 C295.2,226.4 296.2,225.2 297.0,224.6 C297.8,224.0 298.5,224.5 299.5,225.2 C300.5,225.9 301.6,227.4 303.0,229.0 C304.4,230.6 306.4,233.3 308.0,235.0 C309.6,236.7 311.1,238.1 312.5,239.0 C313.9,239.9 315.1,240.3 316.4,240.5 C317.6,240.7 318.6,240.5 320.0,240.0 C321.4,239.5 323.3,238.5 325.0,237.5 C326.7,236.5 329.2,234.6 330.0,234.0" stroke="#333" stroke-width="1.0" fill="none" stroke-dasharray="1 1.3"/>
<text x="338.6" y="126.9" font-size="16.8" font-family='"Liberation Sans", sans-serif' fill="#0a0a0a" font-weight="bold" textLength="12.6" lengthAdjust="spacingAndGlyphs" stroke="#0a0a0a" stroke-width="0.5" >D</text>
<text x="354.4" y="130.5" font-size="8.5" font-family='"Liberation Sans", sans-serif' fill="#222" textLength="12.8" lengthAdjust="spacingAndGlyphs" stroke="#222" stroke-width="0.2" >(%)</text>
<path d="M373,138 L369.9,138 L369.9,285.8 L514.5,285.8" stroke="#111" stroke-width="1.15" fill="none" />
<line x1="369.9" y1="248.8" x2="373" y2="248.8" stroke="#111" stroke-width="1.0" />
<line x1="369.9" y1="211.8" x2="373" y2="211.8" stroke="#111" stroke-width="1.0" />
<line x1="369.9" y1="174.8" x2="373" y2="174.8" stroke="#111" stroke-width="1.0" />
<text x="367.0" y="144.1" font-size="10" font-family='"Liberation Sans", sans-serif' fill="#1a1a1a" text-anchor="end" >40</text>
<text x="367.0" y="181.1" font-size="10" font-family='"Liberation Sans", sans-serif' fill="#1a1a1a" text-anchor="end" >30</text>
<text x="367.0" y="218.1" font-size="10" font-family='"Liberation Sans", sans-serif' fill="#1a1a1a" text-anchor="end" >20</text>
<text x="367.0" y="255.1" font-size="10" font-family='"Liberation Sans", sans-serif' fill="#1a1a1a" text-anchor="end" >10</text>
<text x="367.0" y="288.3" font-size="10" font-family='"Liberation Sans", sans-serif' fill="#1a1a1a" text-anchor="end" >0</text>
<rect x="378.0" y="166.4" width="20.399999999999977" height="119.4" fill="#929292" stroke="#3c3c3c" stroke-width="0.8"/>
<line x1="388.2" y1="166.4" x2="388.2" y2="158.4" stroke="#111" stroke-width="1" />
<line x1="385.0" y1="158.4" x2="391.4" y2="158.4" stroke="#111" stroke-width="1" />
<rect x="414.2" y="204.3" width="20.80000000000001" height="81.5" fill="#929292" stroke="#3c3c3c" stroke-width="0.8"/>
<line x1="424.6" y1="204.3" x2="424.6" y2="193.2" stroke="#111" stroke-width="1" />
<line x1="421.40000000000003" y1="193.2" x2="427.8" y2="193.2" stroke="#111" stroke-width="1" />
<rect x="450.3" y="179.9" width="21.19999999999999" height="105.9" fill="#929292" stroke="#3c3c3c" stroke-width="0.8"/>
<line x1="460.9" y1="179.9" x2="460.9" y2="170.8" stroke="#111" stroke-width="1" />
<line x1="457.7" y1="170.8" x2="464.09999999999997" y2="170.8" stroke="#111" stroke-width="1" />
<rect x="487.2" y="223.5" width="21.0" height="62.30000000000001" fill="#929292" stroke="#3c3c3c" stroke-width="0.8"/>
<line x1="497.7" y1="223.5" x2="497.7" y2="217.4" stroke="#111" stroke-width="1" />
<line x1="494.5" y1="217.4" x2="500.9" y2="217.4" stroke="#111" stroke-width="1" />
<text x="424.4" y="192.3" font-size="15" font-family='"Liberation Serif", serif' fill="#0a0a0a" font-weight="bold" text-anchor="middle" >*</text>
<text x="497.3" y="216" font-size="15" font-family='"Liberation Serif", serif' fill="#0a0a0a" font-weight="bold" text-anchor="middle" >*</text>
<text x="377.4" y="297.2" font-size="10" font-family='"Liberation Serif", serif' fill="#0a0a0a" textLength="21.5" lengthAdjust="spacingAndGlyphs" stroke="#0a0a0a" stroke-width="0.25" >Mock</text>
<text x="408.8" y="297.2" font-size="10" font-family='"Liberation Serif", serif' fill="#0a0a0a" textLength="28.8" lengthAdjust="spacingAndGlyphs" stroke="#0a0a0a" stroke-width="0.25" >WT Csk</text>
<text x="450" y="297.2" font-size="10" font-family='"Liberation Serif", serif' fill="#0a0a0a" textLength="23.3" lengthAdjust="spacingAndGlyphs" stroke="#0a0a0a" stroke-width="0.25" >Csk(-)</text>
<text x="487.2" y="297.2" font-size="10" font-family='"Liberation Serif", serif' fill="#0a0a0a" textLength="21.8" lengthAdjust="spacingAndGlyphs" stroke="#0a0a0a" stroke-width="0.25" >mCsk</text>
<text x="351.8" y="236.8" font-size="10.5" font-family='"Liberation Serif", serif' fill="#0a0a0a" font-weight="bold" textLength="58.5" lengthAdjust="spacingAndGlyphs" transform="rotate(-90 351.8 236.8)" >cell migration</text>
</svg>
</body></html>
